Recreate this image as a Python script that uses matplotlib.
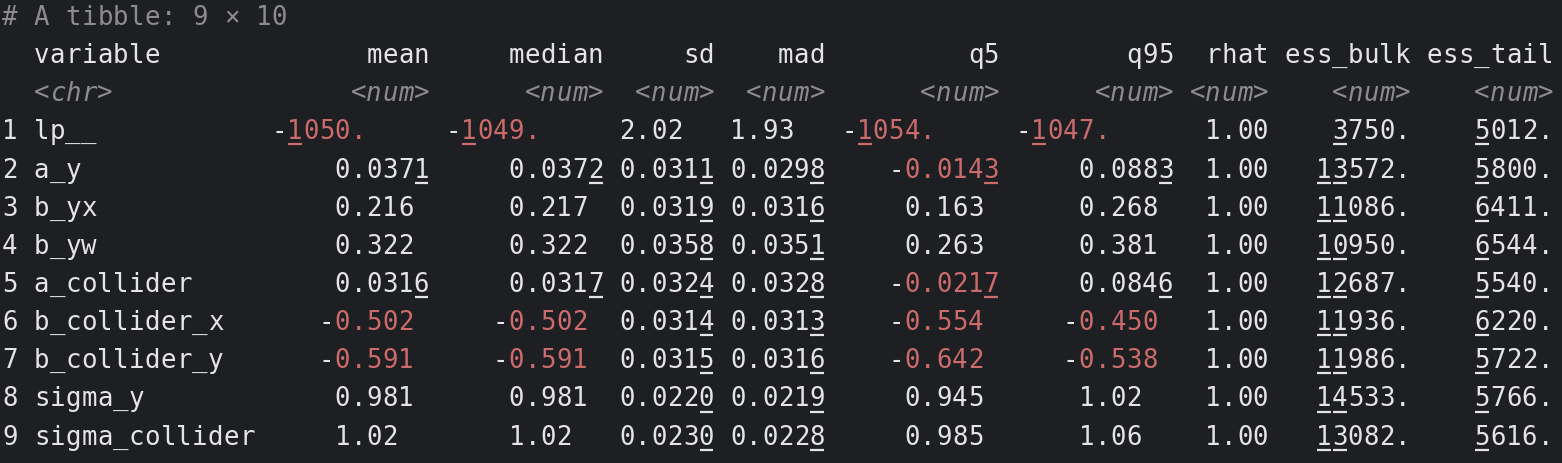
import matplotlib.pyplot as plt

# tibble contents as printed
variables = ["lp__", "a_y", "b_yx", "b_yw", "a_collider", "b_collider_x",
             "b_collider_y", "sigma_y", "sigma_collider"]
mean = ["-1050.", "0.0371", "0.216", "0.322", "0.0316", "-0.502", "-0.591", "0.981", "1.02"]
median = ["-1049.", "0.0372", "0.217", "0.322", "0.0317", "-0.502", "-0.591", "0.981", "1.02"]
sd = ["2.02", "0.0311", "0.0319", "0.0358", "0.0324", "0.0314", "0.0315", "0.0220", "0.0230"]
mad = ["1.93", "0.0298", "0.0316", "0.0351", "0.0328", "0.0313", "0.0316", "0.0219", "0.0228"]
q5 = ["-1054.", "-0.0143", "0.163", "0.263", "-0.0217", "-0.554", "-0.642", "0.945", "0.985"]
q95 = ["-1047.", "0.0883", "0.268", "0.381", "0.0846", "-0.450", "-0.538", "1.02", "1.06"]
rhat = ["1.00"] * 9
ess_bulk = ["3750.", "13572.", "11086.", "10950.", "12687.", "11936.", "11986.", "14533.", "13082."]
ess_tail = ["5012.", "5800.", "6411.", "6544.", "5540.", "6220.", "5722.", "5766.", "5616."]

# (header, values, last character column)
columns = [("mean", mean, 26), ("median", median, 37), ("sd", sd, 44), ("mad", mad, 51),
           ("q5", q5, 62), ("q95", q95, 73), ("rhat", rhat, 79),
           ("ess_bulk", ess_bulk, 88), ("ess_tail", ess_tail, 97)]

BG = "#1e1f22"
FG = "#e4e4e4"
GREY = "#8c8c8c"
RED = "#cc6b6b"
CW = 15.83
X0 = 2
Y0 = 18
LH = 38.15

fig = plt.figure(figsize=(15.62, 4.64), dpi=100, facecolor=BG)
ax = fig.add_axes([0, 0, 1, 1])
ax.set_facecolor(BG)
ax.set_xlim(0, 1562)
ax.set_ylim(464, 0)
ax.axis("off")


def put(text, col, line, color=FG, italic=False, underline=None):
    """Place a string char by char on the terminal grid."""
    y = Y0 + line * LH
    for i, ch in enumerate(text):
        if ch == " ":
            continue
        x = X0 + (col + i) * CW
        c = color[i] if isinstance(color, list) else color
        ax.text(x + CW / 2, y, ch, ha="center", va="center", color=c,
                family="DejaVu Sans Mono", fontsize=18.5,
                style="italic" if italic else "normal")
        if underline and underline[i]:
            ax.plot([x + 1, x + CW - 1], [y + 13, y + 13], color=c, lw=1.6,
                    solid_capstyle="butt")


def split(s):
    if "." in s:
        a, b = s.split(".")
        return a, "." + b
    return s, ""


def underline_mask(s):
    a, b = split(s)
    digits = a.lstrip("-")
    mask = [False] * (len(a) - len(digits))
    n = len(digits)
    for k in range(n):
        p = n - 1 - k
        mask.append(3 <= p <= 5 and digits != "0")
    if b:
        mask.append(False)
        for k in range(1, len(b)):
            mask.append(4 <= k <= 6)
    return mask


put("# A tibble: 9 \u00d7 10", 0, 0, GREY)
put("variable", 2, 1)
put("<chr>", 2, 2, GREY, italic=True)
for r, v in enumerate(variables):
    put(str(r + 1), 0, r + 3, FG)
    put(v, 2, r + 3)

for header, vals, last in columns:
    put(header, last - len(header) + 1, 1)
    put("<num>", last - 4, 2, GREY, italic=True)
    int_w = max(len(split(v)[0]) for v in vals)
    dec_w = max(len(split(v)[1]) for v in vals)
    width = int_w + dec_w
    for r, v in enumerate(vals):
        a, b = split(v)
        start = last - width + 1 + (int_w - len(a))
        colors = [RED if (v.startswith("-") and i > 0) else FG for i in range(len(v))]
        put(v, start, r + 3, colors, underline=underline_mask(v))

fig.savefig("out.png", dpi=100, facecolor=BG)
